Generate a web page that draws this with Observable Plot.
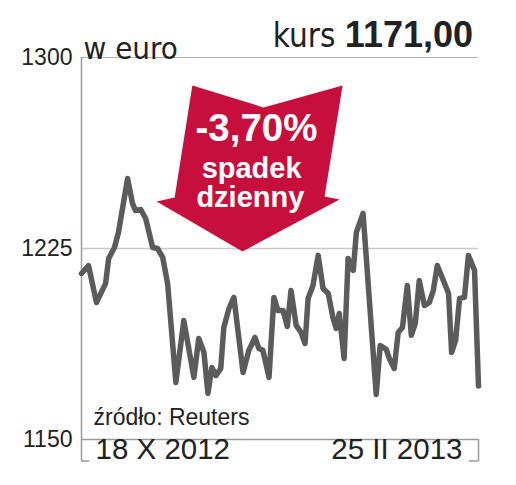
<!DOCTYPE html>
<html>
<head>
<meta charset="utf-8">
<script src="https://cdn.jsdelivr.net/npm/d3@7"></script>
<script src="https://cdn.jsdelivr.net/npm/@observablehq/plot@0.6"></script>
<style>
  html, body { margin: 0; padding: 0; background: #fff; }
</style>
</head>
<body>
<div id="chart"></div>
<script>
// Days since 18 X 2012 (0) to 25 II 2013 (130)
const days = [0, 2.3, 4.9, 7.9, 8.9, 10.8, 12.1, 15.1, 16.7, 17.7, 19.4, 21.0, 23.3, 24.9, 26.6, 28.2,
  30.9, 33.5, 36.8, 38.4, 40.1, 41.4, 42.7, 44.0, 45.6, 46.6, 48.3, 49.9, 52.9, 54.8, 56.8, 58.1, 59.4,
  61.4, 63.0, 64.3, 66.0, 67.4, 68.6, 70.3, 71.9, 73.2, 74.2, 75.8, 77.5, 79.1, 80.8, 82.4, 83.4, 84.4,
  86.0, 87.3, 88.3, 89.0, 90.0, 92.2, 96.5, 97.8, 99.8, 100.8, 102.4, 103.7, 105.1, 106.7, 108.0, 109.3,
  110.6, 112.3, 113.9, 115.2, 116.5, 118.5, 120.2, 121.2, 122.5, 123.8, 125.4, 126.7, 128.7, 130];
const prices = [1215.2, 1218.3, 1203.8, 1211.3, 1221.1, 1225.4, 1231.3, 1252.5, 1242.7, 1239.9, 1240.3,
  1236.8, 1225.4, 1225.0, 1221.5, 1211.3, 1172.4, 1196.7, 1174.4, 1189.7, 1184.2, 1168.1, 1178.3, 1175.1,
  1177.9, 1194.0, 1201.5, 1205.8, 1176.3, 1185.0, 1190.1, 1185.7, 1185.0, 1174.4, 1205.8, 1200.7, 1200.7,
  1194.4, 1208.5, 1194.8, 1192.0, 1187.7, 1205.4, 1210.5, 1222.3, 1209.3, 1207.3, 1197.5, 1193.6, 1199.5,
  1181.8, 1221.1, 1217.5, 1216.4, 1231.3, 1238.8, 1167.7, 1186.9, 1185.4, 1181.8, 1177.9, 1192.0, 1194.0,
  1210.5, 1190.9, 1195.6, 1212.4, 1202.6, 1203.8, 1208.5, 1218.3, 1212.4, 1207.3, 1184.2, 1188.9, 1205.4,
  1205.8, 1222.3, 1216.4, 1171.0];

const yTicks = [1150, 1225, 1300];
const dateLabels = ["18 X 2012", "25 II 2013"];
const unitLabel = "w euro";
const kursLabel = "kurs";
const kursValue = "1171,00";
const sourceLabel = "źródło: Reuters";
const arrowLines = ["-3,70%", "spadek", "dzienny"];

// Arrow outline in data coordinates (day, price)
const arrowDays = [36.3, 59.6, 85.5, 79.6, 84.5, 52.7, 24.6, 30.5];
const arrowPrices = [1289.0, 1280.4, 1289.0, 1245.4, 1244.2, 1223.8, 1243.5, 1245.0];
// Arrow label anchors
const arrowLabelDays = [57.3, 55.7, 55.3];
const arrowLabelPrices = [1272.2, 1256.5, 1244.8];
const arrowLabelSizes = [38.5, 29, 29];

const series = days.map((d, i) => ({day: d, price: prices[i]}));
const arrow = arrowDays.map((d, i) => ({day: d, price: arrowPrices[i]}));
const arrowText = arrowLines.map((t, i) => ({text: t, day: arrowLabelDays[i], price: arrowLabelPrices[i], size: arrowLabelSizes[i]}));

const RED = "#c70f3d";
const INK = "#222";
const LINE = "#5b5b5b";
const SANS = "'Liberation Sans', Arial, sans-serif";
const NARROW = "'Liberation Sans Narrow', 'DejaVu Sans Condensed', 'Liberation Sans', sans-serif";

const chart = Plot.plot({
  width: 516,
  height: 485,
  marginLeft: 81,
  marginRight: 38,
  marginTop: 57,
  marginBottom: 46,
  x: {domain: [0, 130], axis: null},
  y: {domain: [1150, 1300], axis: null},
  style: {fontFamily: SANS, background: "#fff", color: INK},
  marks: [
    Plot.ruleY([1225], {stroke: "#c9c9c9", strokeWidth: 1.5}),
    Plot.ruleY([1300], {stroke: "#b0b0b0", strokeWidth: 1.2}),
    Plot.ruleY([1150], {stroke: "#9a9a9a", strokeWidth: 1.5}),
    Plot.ruleX([0], {stroke: "#9a9a9a", strokeWidth: 1.5}),
    Plot.axisY({ticks: yTicks, tickSize: 0, tickPadding: 9, fontSize: 23, fill: INK, tickFormat: d => String(d), label: null}),
    Plot.axisX({ticks: [0, 130], tickSize: 22, tickFormat: () => "", label: null, stroke: "#9a9a9a", strokeWidth: 1.5}),
    Plot.line(arrow, {x: "day", y: "price", fill: RED, stroke: "none", curve: "linear-closed"}),
    Plot.text(arrowText, {x: "day", y: "price", text: "text", fontSize: "size", fill: "#fff", fontWeight: "bold", fontFamily: SANS, textAnchor: "middle"}),
    Plot.line(series, {x: "day", y: "price", stroke: LINE, strokeWidth: 5.5, strokeLinejoin: "round", strokeLinecap: "round"}),
    Plot.text([sourceLabel], {frameAnchor: "bottom-left", dx: 12, dy: -14.5, textAnchor: "start", fontSize: 23, fill: INK}),
    Plot.text([dateLabels[0]], {frameAnchor: "bottom-left", dx: 14, dy: 19.5, textAnchor: "start", fontSize: 29.5, fill: INK}),
    Plot.text([dateLabels[1]], {frameAnchor: "bottom-right", dx: -16, dy: 19.5, textAnchor: "end", fontSize: 29.5, fill: INK}),
    Plot.text([unitLabel], {frameAnchor: "top-left", dx: 2, dy: -21, textAnchor: "start", fontSize: 31, fontFamily: NARROW, fill: INK})
  ]
});

document.getElementById("chart").appendChild(chart);

// Bracket feet and headline built from the chart's own scales
const sx = chart.scale("x"), sy = chart.scale("y");
const svg = d3.select(chart);
const x0 = sx.apply(0), x1 = sx.apply(130), yb = sy.apply(1150) + 22;
svg.append("line").attr("x1", x0).attr("x2", x0 + 8).attr("y1", yb).attr("y2", yb)
  .attr("stroke", "#9a9a9a").attr("stroke-width", 1.5);
svg.append("line").attr("x1", x1 - 9).attr("x2", x1).attr("y1", yb).attr("y2", yb)
  .attr("stroke", "#9a9a9a").attr("stroke-width", 1.5);

const head = svg.append("text")
  .attr("x", x1 - 5).attr("y", sy.apply(1300) - 10)
  .attr("text-anchor", "end").attr("fill", INK);
head.append("tspan").attr("font-family", NARROW).attr("font-size", 33).text(kursLabel + " ");
head.append("tspan").attr("font-family", SANS).attr("font-weight", "bold").attr("font-size", 36).text(kursValue);
</script>
</body>
</html>
